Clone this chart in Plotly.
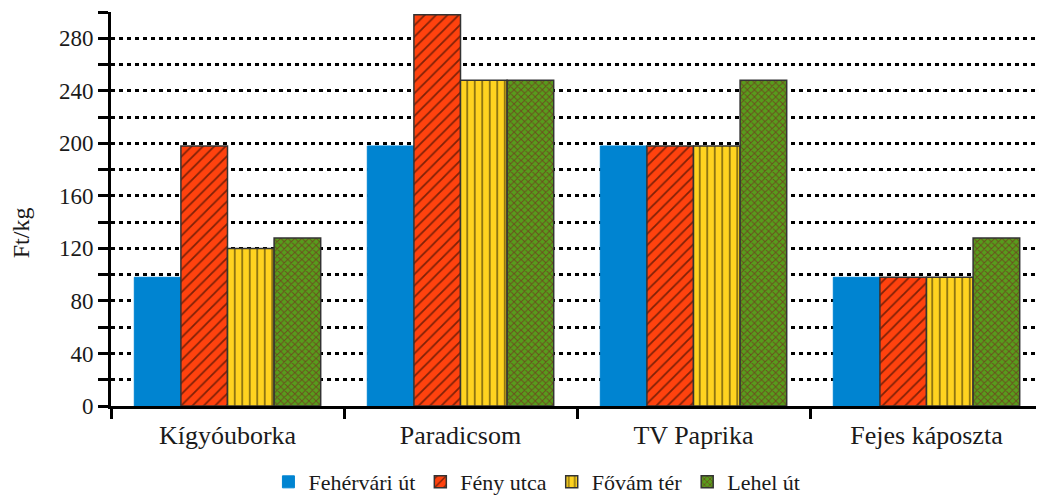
import plotly.graph_objects as go

categories = ["Kígyóuborka", "Paradicsom", "TV Paprika", "Fejes káposzta"]
series_names = ["Fehérvári út", "Fény utca", "Fővám tér", "Lehel út"]
fehervari = [98, 198, 198, 98]
feny = [198, 298, 198, 98]
fovam = [120, 248, 198, 98]
lehel = [128, 248, 248, 128]
tick_vals = list(range(0, 301, 20))
tick_text = [str(v) if (v % 40 == 0 and v < 300) else "" for v in tick_vals]

FONT = "'Liberation Serif', 'Times New Roman', serif"
TXT = "#1a1a1a"

styles = [
    dict(color="#0084D1", line=dict(color="#0084D1", width=1), pattern=dict(shape="")),
    dict(color="#FF420E", line=dict(color="#333333", width=1.5),
         pattern=dict(shape="/", fgcolor="#000000", bgcolor="#FF420E", size=8, solidity=0.22, fillmode="overlay")),
    dict(color="#FFD320", line=dict(color="#333333", width=1.5),
         pattern=dict(shape="|", fgcolor="#000000", bgcolor="#FFD320", size=7.5, solidity=0.22, fillmode="overlay")),
    dict(color="#579D1C", line=dict(color="#333333", width=1.5),
         pattern=dict(shape="x", fgcolor="#7E0021", bgcolor="#579D1C", size=5, solidity=0.35, fillmode="overlay")),
]

fig = go.Figure()
for name, vals, st in zip(series_names, [fehervari, feny, fovam, lehel], styles):
    fig.add_trace(go.Bar(x=categories, y=vals, name=name, marker=st))

# page body has an 8px margin, so the figure is sized/offset to compensate
fig.update_layout(
    width=1036, height=487,
    margin=dict(l=103, r=1, t=4, b=89, autoexpand=False),
    paper_bgcolor="white", plot_bgcolor="white",
    barmode="group", bargap=0.2, bargroupgap=0,
    font=dict(family=FONT, color=TXT, size=22),
    showlegend=True,
    legend=dict(orientation="h", x=0.457, xanchor="center", y=-0.193, yanchor="middle",
                font=dict(size=22, family=FONT, color=TXT), itemwidth=30,
                tracegroupgap=0, itemclick=False),
    xaxis=dict(
        type="category", tickson="boundaries", ticks="outside", ticklen=10, tickwidth=2.5,
        tickcolor="black", showline=True, linecolor="black", linewidth=3, automargin=False,
        showgrid=False, tickfont=dict(size=26, family=FONT, color=TXT), zeroline=False,
        ticklabelstandoff=4,
    ),
    yaxis=dict(
        range=[0, 300], tickmode="array", tickvals=tick_vals, ticktext=tick_text,
        ticks="outside", ticklen=10, tickwidth=3, tickcolor="black", automargin=False,
        showline=True, linecolor="black", linewidth=3,
        showgrid=True, gridcolor="black", gridwidth=2.5, griddash="4px,4px",
        zeroline=False, tickfont=dict(size=23, family=FONT, color=TXT),
    ),
    annotations=[dict(text="Ft/kg", xref="paper", yref="paper", x=-0.097, xanchor="center",
                      y=0.44, yanchor="middle",
                      showarrow=False, textangle=-90, font=dict(size=24, family=FONT, color=TXT))],
)

fig.write_html("out.html")
